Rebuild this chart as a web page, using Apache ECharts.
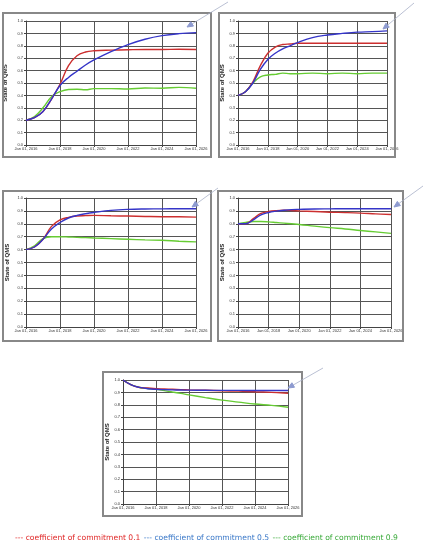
<!DOCTYPE html>
<html><head><meta charset="utf-8">
<script src="https://cdn.jsdelivr.net/npm/echarts@6/dist/echarts.min.js"></script>
<style>html,body{margin:0;padding:0;background:#fff}#c{width:423px;height:542px}</style>
</head><body><div id="c"></div>
<script>
var years = [2016, 2016.5, 2017, 2017.5, 2018, 2018.5, 2019, 2019.5, 2020, 2021, 2022, 2023, 2024, 2025, 2026];
var xTicks = [2016, 2018, 2020, 2022, 2024, 2026];
var yTicks = [0, 0.1, 0.2, 0.3, 0.4, 0.5, 0.6, 0.7, 0.8, 0.9, 1.0];
var legendLabels = ['coefficient of commitment 0.1', 'coefficient of commitment 0.5', 'coefficient of commitment 0.9'];
var yName = 'State of QMS';

var red1 = [0.20,0.22,0.27,0.37,0.49,0.64,0.72,0.75,0.76,0.765,0.768,0.77,0.77,0.772,0.77];
var blue1 = [0.20,0.22,0.27,0.37,0.48,0.545,0.595,0.645,0.686,0.753,0.81,0.853,0.882,0.898,0.906];
var green1 = [0.20,0.23,0.30,0.39,0.43,0.448,0.45,0.445,0.455,0.455,0.452,0.46,0.458,0.465,0.458];

var red2 = [0.40,0.43,0.51,0.64,0.74,0.79,0.81,0.815,0.82,0.82,0.82,0.82,0.82,0.82,0.82];
var blue2 = [0.40,0.43,0.50,0.61,0.69,0.74,0.775,0.80,0.826,0.866,0.887,0.90,0.91,0.914,0.92];
var green2 = [0.40,0.43,0.50,0.55,0.565,0.57,0.58,0.575,0.575,0.58,0.575,0.58,0.575,0.58,0.58];

var red3 = [0.60,0.62,0.68,0.78,0.83,0.85,0.86,0.863,0.865,0.862,0.86,0.857,0.855,0.855,0.852];
var blue3 = [0.60,0.62,0.68,0.76,0.81,0.845,0.865,0.878,0.888,0.904,0.912,0.915,0.916,0.917,0.917];
var green3 = [0.60,0.63,0.685,0.70,0.70,0.698,0.695,0.693,0.69,0.685,0.68,0.675,0.672,0.665,0.66];

var red4 = [0.80,0.80,0.84,0.88,0.895,0.902,0.905,0.903,0.90,0.895,0.89,0.887,0.883,0.877,0.872];
var blue4 = [0.80,0.80,0.83,0.87,0.888,0.898,0.905,0.91,0.912,0.915,0.916,0.917,0.917,0.917,0.917];
var green4 = [0.80,0.81,0.818,0.818,0.815,0.81,0.805,0.80,0.795,0.782,0.77,0.76,0.748,0.737,0.726];

var red5 = [1.00,0.96,0.94,0.935,0.93,0.928,0.925,0.922,0.92,0.917,0.913,0.91,0.905,0.90,0.893];
var blue5 = [1.00,0.96,0.94,0.93,0.925,0.922,0.92,0.919,0.918,0.917,0.916,0.916,0.915,0.915,0.915];
var green5 = [1.00,0.96,0.94,0.932,0.925,0.914,0.903,0.892,0.88,0.858,0.838,0.822,0.806,0.795,0.78];

var panels = [
  {red: red1, blue: blue1, green: green1},
  {red: red2, blue: blue2, green: green2},
  {red: red3, blue: blue3, green: green3},
  {red: red4, blue: blue4, green: green4},
  {red: red5, blue: blue5, green: green5}
];

// layout (pixels)
var grids = [
  {left: 26, top: 21, width: 170, height: 124},
  {left: 238, top: 21, width: 149, height: 124},
  {left: 26, top: 198, width: 170, height: 129},
  {left: 238, top: 198, width: 153, height: 129},
  {left: 123, top: 380, width: 165, height: 124}
];
var nameGaps = [18, 13, 16, 13, 13];
var frames = [
  [3, 13, 208, 144], [219, 13, 176, 144], [3, 191, 208, 150], [218, 191, 185, 150], [103, 372, 199, 144]
];
var arrows = [
  [[228, 2], [187, 27]], [[414, 3], [383, 29]], [[218, 188], [192, 207]], [[423, 186], [394, 207]], [[323, 368], [288, 388]]
];

var C_RED = '#cc2f2f', C_BLUE = '#3535c8', C_GREEN = '#66cc33';

function zip(v) { return years.map(function (y, i) { return [y, v[i]]; }); }

var option = {
  animation: false,
  backgroundColor: '#fff',
  grid: grids.map(function (g) { return Object.assign({containLabel: false}, g); }),
  xAxis: grids.map(function (g, i) {
    return {
      type: 'value', gridIndex: i, min: 2016, max: 2026, interval: 2,
      axisLine: {show: true, lineStyle: {color: '#444', width: 1}},
      axisTick: {show: true, length: 2, lineStyle: {color: '#444'}},
      axisLabel: {fontSize: 4, color: '#333', margin: 2, fontFamily: 'Arial, Liberation Sans', formatter: function (v) { return 'Jan 01, ' + v; }},
      splitLine: {show: true, lineStyle: {color: '#555', width: 1}}
    };
  }),
  yAxis: grids.map(function (g, i) {
    return {
      type: 'value', gridIndex: i, min: 0, max: 1, interval: 0.1,
      name: yName, nameLocation: 'middle', nameGap: nameGaps[i], nameRotate: 90,
      nameTextStyle: {fontSize: 6, fontWeight: 'bold', color: '#222', fontFamily: 'Arial, Liberation Sans'},
      axisLine: {show: true, lineStyle: {color: '#444', width: 1}},
      axisTick: {show: true, length: 2, lineStyle: {color: '#444'}},
      axisLabel: {fontSize: 4, color: '#333', margin: 3, fontFamily: 'Arial, Liberation Sans', formatter: function (v) { return v.toFixed(1); }},
      splitLine: {show: true, lineStyle: {color: '#555', width: 1}}
    };
  }),
  series: [],
  graphic: []
};

panels.forEach(function (p, i) {
  [['green', C_GREEN], ['red', C_RED], ['blue', C_BLUE]].forEach(function (s) {
    option.series.push({
      type: 'line', xAxisIndex: i, yAxisIndex: i, data: zip(p[s[0]]),
      smooth: 0.4, showSymbol: false, symbol: 'none',
      lineStyle: {color: s[1], width: 1.4}, z: 3
    });
  });
});

frames.forEach(function (f) {
  option.graphic.push({type: 'rect', shape: {x: f[0], y: f[1], width: f[2], height: f[3]},
    style: {fill: 'none', stroke: '#888', lineWidth: 2}, z: 1, silent: true});
});

arrows.forEach(function (a) {
  var s = a[0], e = a[1];
  var dx = e[0] - s[0], dy = e[1] - s[1], L = Math.sqrt(dx * dx + dy * dy);
  var ux = dx / L, uy = dy / L, hl = 6, hw = 2.6;
  var bx = e[0] - ux * hl, by = e[1] - uy * hl;
  option.graphic.push({type: 'line', shape: {x1: s[0], y1: s[1], x2: bx, y2: by},
    style: {stroke: '#a8b0c8', lineWidth: 0.8}, z: 10, silent: true});
  option.graphic.push({type: 'polygon', shape: {points: [[e[0], e[1]], [bx - uy * hw, by + ux * hw], [bx + uy * hw, by - ux * hw]]},
    style: {fill: '#8d9ad0', stroke: '#8d9ad0'}, z: 10, silent: true});
});

option.graphic.push({
  type: 'text', left: 15, top: 532, z: 10, silent: true,
  style: {
    rich: {
      r: {fill: '#e02828', fontSize: 7.6, fontFamily: 'DejaVu Sans'},
      b: {fill: '#3a78c8', fontSize: 7.6, fontFamily: 'DejaVu Sans'},
      g: {fill: '#3aaa3a', fontSize: 7.6, fontFamily: 'DejaVu Sans'}
    },
    text: '{r|--- ' + legendLabels[0] + '} {b|--- ' + legendLabels[1] + '} {g|--- ' + legendLabels[2] + '}'
  }
});

var chart = echarts.init(document.getElementById('c'), null, {renderer: 'canvas'});
chart.setOption(option);
</script>
</body></html>
